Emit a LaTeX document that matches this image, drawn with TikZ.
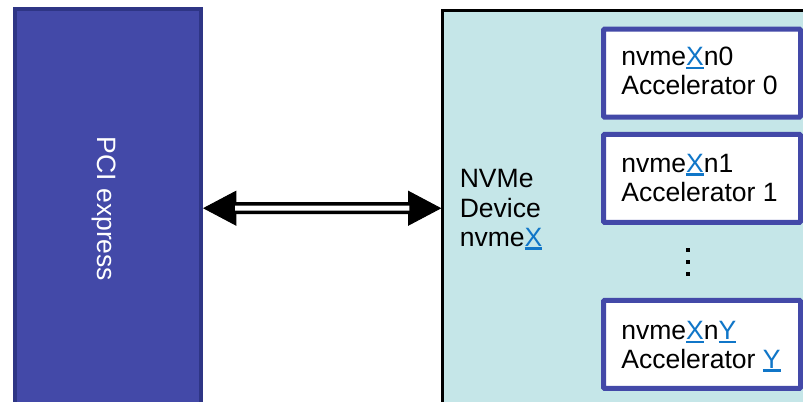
\documentclass[tikz,border=0pt]{standalone}
\usepackage{fontspec}
\setmainfont{Liberation Sans}
\usetikzlibrary{arrows.meta}
\definecolor{pciefill}{RGB}{67,73,168}
\definecolor{pcieborder}{RGB}{46,53,133}
\definecolor{nvmefill}{RGB}{197,230,232}
\definecolor{accborder}{RGB}{67,73,168}
\definecolor{lnk}{RGB}{16,118,200}
\newcommand\lnkchar[1]{\textcolor{lnk}{\setbox0\hbox{#1}\rlap{\rule[-2.6pt]{\wd0}{2.1pt}}\box0}}
\tikzset{
  txt/.style={inner sep=0pt, outer sep=0pt, font=\fontsize{19.9pt}{23pt}\selectfont},
  pciebox/.style={draw=pcieborder, fill=pciefill, line width=3pt, inner sep=0pt},
  nvmebox/.style={draw=black, fill=nvmefill, line width=1.875pt, inner sep=0pt},
  accbox/.style={draw=accborder, fill=white, line width=3.75pt, rounded corners=0.75pt, inner sep=0pt,
    minimum width=147.75pt, minimum height=66pt},
  tiphead/.tip={Triangle[length=25pt,width=26.25pt]},
}
\begin{document}
\begin{tikzpicture}[x=0.75pt,y=-0.75pt]
\useasboundingbox (0,0) rectangle (803,402);
\clip (0,0) rectangle (803,402);
\fill[white] (0,0) rectangle (803,402);

% PCI express bar
\node[pciebox, minimum width=139.5pt, minimum height=298.5pt] (pcie) at (108,208.2) {};
\node[txt, rotate=-90, anchor=base, text=white] (pcielabel) at (97.5,209) {PCI express};

% NVMe device
\node[nvmebox, minimum width=418pt, minimum height=296.6pt] (nvme) at (721.3,208.25) {};
\node[txt, anchor=base west] (dev1) at (459.8,187.3) {NVMe};
\node[txt, anchor=base west] (dev2) at (459.8,217.3) {Device};
\node[txt, anchor=base west] (dev3) at (459.8,246.7) {nvme\lnkchar{X}};

% accelerators
\node[accbox] (acc0) at (702,73.2) {};
\node[accbox] (acc1) at (702,178.4) {};
\node[accbox] (accY) at (702,344.3) {};

\node[txt, anchor=base west] (acc0a) at (621.3,66) {nvme\lnkchar{X}n0};
\node[txt, anchor=base west] (acc0b) at (621.3,95) {Accelerator 0};
\node[txt, anchor=base west] (acc1a) at (621.3,172.7) {nvme\lnkchar{X}n1};
\node[txt, anchor=base west] (acc1b) at (621.3,201.7) {Accelerator 1};
\node[txt, anchor=base west] (accYa) at (621.3,340) {nvme\lnkchar{X}n\lnkchar{Y}};
\node[txt, anchor=base west] (accYb) at (621.3,368.5) {Accelerator \lnkchar{Y}};

% vertical dots
\fill[black] (686.2,248.2) rectangle (689.8,251.8);
\fill[black] (686.2,260.2) rectangle (689.8,263.8);
\fill[black] (686.2,272.2) rectangle (689.8,275.8);

% bidirectional double arrow
\draw[black, line width=0.8pt, {tiphead}-{tiphead}] (pcie.east) -- (nvme.west);
\draw[black, double=white, line width=2.625pt, double distance=3.75pt,
      shorten <=24pt, shorten >=24pt] (pcie.east) -- (nvme.west);
\end{tikzpicture}
\end{document}
